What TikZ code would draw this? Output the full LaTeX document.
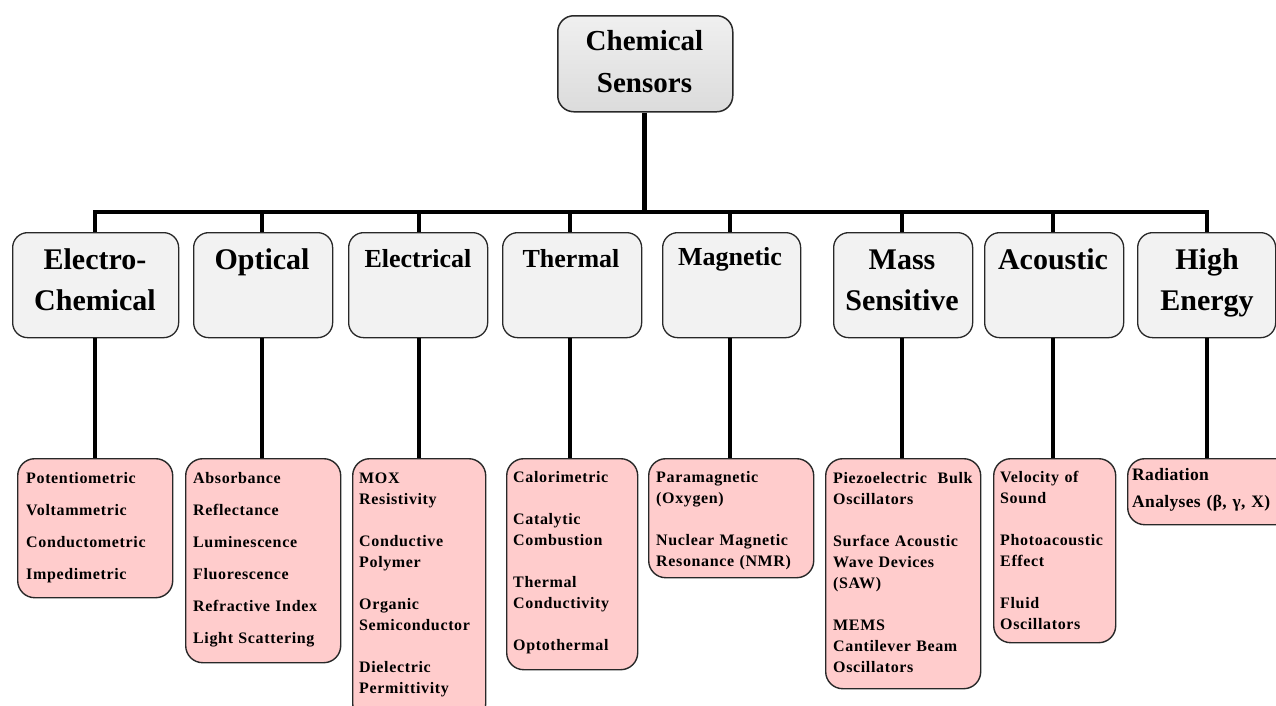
\documentclass[tikz,border=0pt]{standalone}
\usepackage{fontspec}
\setmainfont{Liberation Serif}
\newfontfamily\leaffont[LetterSpace=4]{Liberation Serif}
\newfontfamily\hefont[LetterSpace=2]{Liberation Serif}
\definecolor{pinkfill}{RGB}{255,204,204}
\definecolor{edge}{RGB}{40,40,40}
\begin{document}
\begin{tikzpicture}[x=1pt,y=-1pt,
  conn/.style={line width=4.5pt, black},
  topbox/.style={draw=edge, line width=1.5pt, rounded corners=16pt, top color=black!6, bottom color=black!14, inner sep=0pt, anchor=north west},
  catbox/.style={draw=edge, line width=1.3pt, rounded corners=15pt, fill=black!5, inner sep=0pt, anchor=north west},
  leafbox/.style={draw=edge, line width=1.4pt, rounded corners=17pt, fill=pinkfill, inner sep=0pt, anchor=north west},
  toptext/.style={font=\fontsize{29}{42}\selectfont\bfseries, align=center, text width=170pt, anchor=base, inner sep=0pt},
  cattext/.style={font=\fontsize{30}{41}\selectfont\bfseries, align=center, text width=160pt, anchor=base, inner sep=0pt},
  catsmall/.style={font=\fontsize{26}{41}\selectfont\bfseries, align=center, text width=160pt, anchor=base, inner sep=0pt},
  leaftext/.style={font=\leaffont\fontsize{16}{21}\selectfont\bfseries, align=left, text width=220pt, anchor=base west, inner sep=0pt},
]
\useasboundingbox (0,0) rectangle (1276,705);
\fill[white] (0,0) rectangle (1276,705);

% top
\node[topbox, minimum width=175pt, minimum height=96pt] (top) at (557,15) {};
\node[toptext] (toptxt) at (644.5,50) {Chemical\\Sensors};

% categories
\node[catbox, minimum width=166pt, minimum height=105pt] (c1) at (12,232) {};
\node[catbox, minimum width=139pt, minimum height=105pt] (c2) at (193,232) {};
\node[catbox, minimum width=139pt, minimum height=105pt] (c3) at (348,232) {};
\node[catbox, minimum width=139pt, minimum height=105pt] (c4) at (502,232) {};
\node[catbox, minimum width=138pt, minimum height=105pt] (c5) at (662,232) {};
\node[catbox, minimum width=139pt, minimum height=105pt] (c6) at (833,232) {};
\node[catbox, minimum width=139pt, minimum height=105pt] (c7) at (984,232) {};
\node[catbox, minimum width=138pt, minimum height=105pt] (c8) at (1137,232) {};

\node[cattext] (ct1) at (95,269) {Electro-\\Chemical};
\node[cattext] (ct2) at (262,269) {Optical};
\node[catsmall] (ct3) at (418,267) {Electrical};
\node[catsmall] (ct4) at (571,267) {Thermal};
\node[catsmall] (ct5) at (730,265) {Magnetic};
\node[cattext] (ct6) at (902,269) {Mass\\Sensitive};
\node[cattext] (ct7) at (1053,269) {Acoustic};
\node[cattext] (ct8) at (1207,269) {High\\Energy};

% leaves
\node[leafbox, minimum width=155pt, minimum height=139pt] (l1) at (17,458) {};
\node[leafbox, minimum width=155pt, minimum height=204pt] (l2) at (185,458) {};
\node[leafbox, minimum width=133pt, minimum height=262pt] (l3) at (352,458) {};
\node[leafbox, minimum width=131pt, minimum height=211pt] (l4) at (506,458) {};
\node[leafbox, minimum width=165pt, minimum height=119pt] (l5) at (648,458) {};
\node[leafbox, minimum width=155pt, minimum height=230pt] (l6) at (825,458) {};
\node[leafbox, minimum width=122pt, minimum height=184pt] (l7) at (993,458) {};
\node[leafbox, minimum width=165pt, minimum height=66pt] (l8) at (1127,458) {};

\node[leaftext, font=\leaffont\fontsize{16}{32}\selectfont\bfseries] (lt1) at (26,483)
  {Potentiometric\\Voltammetric\\Conductometric\\Impedimetric};
\node[leaftext, font=\leaffont\fontsize{16}{32}\selectfont\bfseries] (lt2) at (193,483)
  {Absorbance\\Reflectance\\Luminescence\\Fluorescence\\Refractive Index\\Light Scattering};
\node[leaftext] (lt3) at (359,483)
  {MOX\\Resistivity\\[21pt]Conductive\\Polymer\\[21pt]Organic\\Semiconductor\\[21pt]Dielectric\\Permittivity};
\node[leaftext] (lt4) at (513,482)
  {Calorimetric\\[21pt]Catalytic\\Combustion\\[21pt]Thermal\\Conductivity\\[21pt]Optothermal};
\node[leaftext] (lt5) at (656,482)
  {Paramagnetic\\(Oxygen)\\[21pt]Nuclear Magnetic\\Resonance (NMR)};
\node[leaftext] (lt6) at (833,483)
  {Piezoelectric~~Bulk\\Oscillators\\[21pt]Surface Acoustic\\Wave Devices\\(SAW)\\[21pt]MEMS\\Cantilever Beam\\Oscillators};
\node[leaftext] (lt7) at (1000,482)
  {Velocity of\\Sound\\[21pt]Photoacoustic\\Effect\\[21pt]Fluid\\Oscillators};
\node[leaftext, font=\hefont\fontsize{17.5}{27}\selectfont\bfseries] (lt8) at (1132,480)
  {Radiation\\Analyses (β, γ, X)};

% connectors
\coordinate (j0) at (644.5,212);
\coordinate (j1) at (95,212);
\coordinate (j2) at (262,212);
\coordinate (j3) at (419,212);
\coordinate (j4) at (570,212);
\coordinate (j5) at (730,212);
\coordinate (j6) at (902,212);
\coordinate (j7) at (1053,212);
\coordinate (j8) at (1207,212);
\draw[conn] (top.south -| j0) -- (j0);
\draw[conn, line cap=rect] (j1) -- (j8);
\foreach \i in {1,...,8}{
  \draw[conn] (j\i) -- (j\i |- c\i.north);
  \draw[conn] (j\i |- c\i.south) -- (j\i |- l\i.north);
}
\end{tikzpicture}
\end{document}
